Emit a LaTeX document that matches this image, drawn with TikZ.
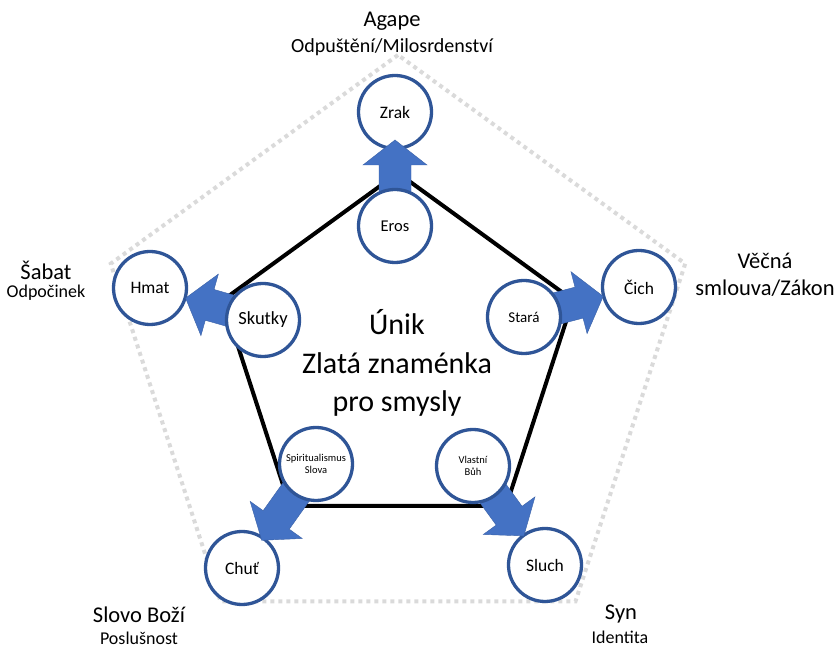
\documentclass[tikz,border=0pt]{standalone}
\usepackage{fontspec}
\setmainfont{Carlito}
\usetikzlibrary{calc, positioning}
\definecolor{ringBlue}{HTML}{2F5597}
\definecolor{arrowBlue}{HTML}{4472C4}
\definecolor{dotGray}{HTML}{DADADA}
\tikzset{x=1pt, y=1pt, % one unit is one pixel of the drawing
	sense/.style={circle, draw=ringBlue, line width=3.3pt, fill=white, minimum size=73pt, inner sep=0pt, font=\fontsize{17.5}{20}\selectfont}, % the five senses on the outside
	sign/.style={sense, font=\fontsize{16.5}{20}\selectfont}, % the circles sitting on the black pentagon
	small sign/.style={sign, align=center, font=\fontsize{10.5}{12.5}\selectfont},
	blockArrow/.style={fill=arrowBlue, draw=arrowBlue!85!black, line width=0.4pt},
	title/.style={font=\fontsize{22.5}{27}\selectfont, align=center}, % big label at a corner
	subtitle/.style={font=\fontsize{18}{22}\selectfont}, % small label below it
%	every node/.style={draw=red},
}
% block arrow from circle #1 to circle #2, the tip #3 from the centre of #2
\newcommand{\senseArrow}[3]{%
	\coordinate (S) at ($(#1)!20pt!(#2)$);
	\coordinate (T) at ($(#2)!#3pt!(#1)$);
	\coordinate (H) at ($(T)!25pt!(S)$);
	\filldraw[blockArrow] ($(S)!16pt!90:(T)$) -- ($(H)!16pt!90:(T)$) -- ($(H)!32pt!90:(T)$) -- (T)
		-- ($(H)!32pt!-90:(T)$) -- ($(H)!16pt!-90:(T)$) -- ($(S)!16pt!-90:(T)$) -- cycle;
}

\begin{document}
\begin{tikzpicture}
	\useasboundingbox (0,0) rectangle (838,648);
	\coordinate (Centre) at (398,291);

	%% the two pentagons
	\begin{scope}[shift={(Centre)}]
		\draw[dotGray, line width=4pt, dash pattern=on 4pt off 4pt] (90:302) -- (162:302) -- (234:302) -- (306:302) -- (18:302) -- cycle;
		\draw[black, line width=4pt, line join=miter] (90:184) -- (162:184) -- (234:184) -- (306:184) -- (18:184) -- cycle;
	\end{scope}

	%% the senses
	\node[sense] (Zrak) at (395,536) {Zrak};
	\node[sense] (Hmat) at (150,360) {Hmat};
	\node[sense] (Cich) at (639,361) {Čich};
	\node[sense] (Chut) at (242,80) {Chuť};
	\node[sense] (Sluch) at (545,83) {Sluch};

	%% the signs on the black pentagon (positions only, drawn after the arrows)
	\coordinate (Eros) at (395,422);
	\coordinate (Skutky) at (263,328);
	\coordinate (Stara) at (524,331);
	\coordinate (Spirit) at (316,184);
	\coordinate (Vlastni) at (473,182);

	\senseArrow{Eros}{Zrak}{28}
	\senseArrow{Skutky}{Hmat}{37}
	\senseArrow{Stara}{Cich}{37}
	\senseArrow{Spirit}{Chut}{34}
	\senseArrow{Vlastni}{Sluch}{36}

	\node[sign] (ErosC) at (Eros) {Eros};
	\node[sign, font=\fontsize{18.5}{20}\selectfont] (SkutkyC) at (Skutky) {Skutky};
	\node[sign, font=\fontsize{15}{18}\selectfont] (StaraC) at (Stara) {Stará};
	\node[small sign] (SpiritC) at (Spirit) {Spiritualismus\\Slova};
	\node[small sign] (VlastniC) at (Vlastni) {Vlastní\\Bůh};

	%% in the middle
	\node[align=center, font=\fontsize{30}{38.5}\selectfont] (Unik) at (397,285) {Únik\\Zlatá znaménka\\pro smysly};

	%% labels at the corners
	\node[title] (Agape) at (392,627) {Agape};
	\node[subtitle, font=\fontsize{20}{24}\selectfont] (Odpusteni) at (392,601) {Odpuštění/Milosrdenství};
	\node[title] (Sabat) at (46,378) {Šabat};
	\node[subtitle] (Odpocinek) at (46,355) {Odpočinek};
	\node[title] (Smlouva) at (765,373) {Věčná\\smlouva/Zákon};
	\node[title] (Slovo) at (139,33) {Slovo Boží};
	\node[subtitle] (Poslusnost) at (139,10) {Poslušnost};
	\node[title] (Syn) at (621,34) {Syn};
	\node[subtitle] (Identita) at (620,11) {Identita};
\end{tikzpicture}
\end{document}
